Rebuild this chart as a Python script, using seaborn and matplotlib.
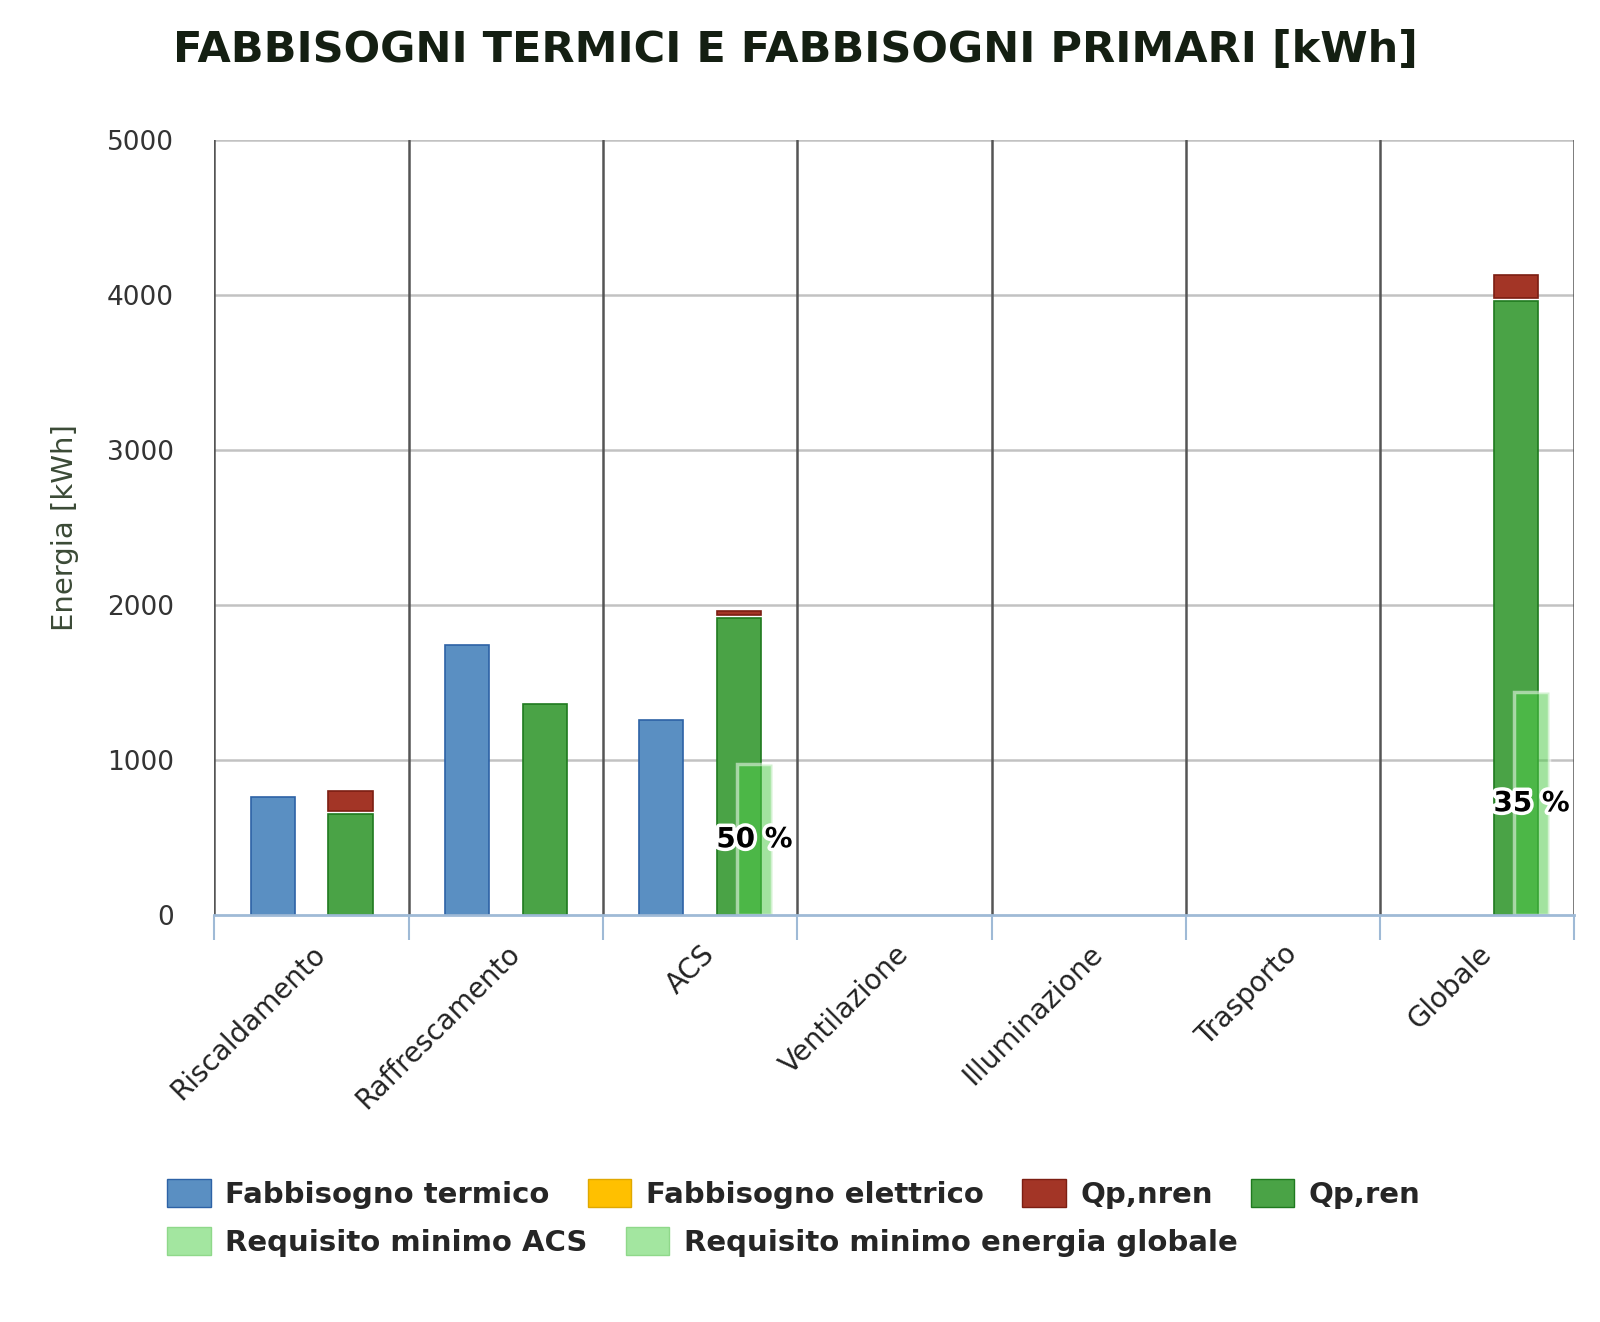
"""Fabbisogni termici e fabbisogni primari: grouped bar chart with seaborn"""

from matplotlib import pyplot as plt
from matplotlib import patheffects as pe
from matplotlib.patches import Patch
import seaborn as sns
import pandas as pd
import numpy as np

categorie = ['Riscaldamento', 'Raffrescamento', 'ACS', 'Ventilazione',
             'Illuminazione', 'Trasporto', 'Globale']
fabb_termico = [760, 1740, 1260, np.nan, np.nan, np.nan, np.nan]
qp_ren = [650, 1360, 1915, np.nan, np.nan, np.nan, 3960]
qp_nren = [130, 0, 30, 0, 0, 0, 150]
req_min = [np.nan, np.nan, 975, np.nan, np.nan, np.nan, 1440]
req_labels = ['', '', '50 %', '', '', '', '35 %']

y_ticks = [0, 1000, 2000, 3000, 4000, 5000]

C_BLUE = '#5a8fc2'
C_YELLOW = '#ffc000'
C_RED = '#a33526'
C_GREEN = '#4aa346'
C_LIGHT = '#4ecb48'
C_LEG_LIGHT = '#a3e6a0'

sns.set_theme(style='white')
plt.rcParams['font.family'] = ['DejaVu Sans']

df = pd.DataFrame({
    'categoria': categorie * 2,
    'valore': fabb_termico + qp_ren,
    'serie': ['Fabbisogno termico'] * 7 + ['Qp,ren'] * 7,
})

fig = plt.figure(figsize=(16, 13.22), dpi=100)
ax = fig.add_axes([0.134, 0.308, 0.850, 0.586])

sns.barplot(data=df, x='categoria', y='valore', hue='serie',
            palette=[C_BLUE, C_GREEN], width=0.8, gap=0.43, saturation=1,
            legend=False, ax=ax, zorder=3)
for patch in ax.patches:
    fc = patch.get_facecolor()
    patch.set_edgecolor('#2d62a6' if fc[2] > 0.6 else '#1f7a1f')
    patch.set_linewidth(1.2)

x = np.arange(len(categorie))
ren_base = np.nan_to_num(np.array(qp_ren, dtype=float))
nren = np.array(qp_nren, dtype=float)
mask = nren > 0
ax.bar(x[mask] + 0.2, nren[mask], bottom=ren_base[mask] + 18, width=0.228,
       color=C_RED, edgecolor='#7c1e12', linewidth=1.2, zorder=3)

req = np.array(req_min, dtype=float)
rmask = ~np.isnan(req)
ax.bar(x[rmask] + 0.28, req[rmask], width=0.18, color=C_LIGHT, alpha=0.52,
       edgecolor='white', linewidth=2.5, zorder=4)
for i in x[rmask]:
    ax.text(i + 0.28, req[i] * 0.5, req_labels[i], ha='center', va='center',
            fontsize=20, fontweight='bold', color='black', zorder=6,
            path_effects=[pe.withStroke(linewidth=5, foreground='white')])

ax.set_xlim(-0.5, len(categorie) - 0.5)
ax.set_ylim(0, 5000)
ax.set_yticks(y_ticks)
ax.set_yticklabels([str(v) for v in y_ticks], fontsize=19, color='#333333')
ax.tick_params(axis='y', length=0, pad=29)

# vertical separators between categories and horizontal grid
for b in np.arange(-0.5, len(categorie) + 0.5, 1):
    ax.axvline(b, color='#555555', linewidth=1.8, zorder=1)
for v in y_ticks[1:]:
    ax.axhline(v, color='#c2c2c2', linewidth=1.8, zorder=0)

ax.set_xticks(x)
ax.set_xticklabels(categorie, rotation=45, ha='right', rotation_mode='anchor',
                   fontsize=20, color='#222222')
ax.tick_params(axis='x', length=0, pad=18)
ax.set_xticks(np.arange(-0.5, len(categorie) + 0.5, 1), minor=True)
ax.tick_params(axis='x', which='minor', bottom=True, length=18, width=1.5,
               color='#9fbad6', direction='out')

for s in ['top', 'right', 'left']:
    ax.spines[s].set_visible(False)
ax.spines['bottom'].set_color('#9fbad6')
ax.spines['bottom'].set_linewidth(2)
ax.spines['bottom'].set_zorder(5)

ax.set_xlabel('')
ax.set_ylabel('Energia [kWh]', fontsize=21, color='#3b4a36', labelpad=20)

fig.suptitle('FABBISOGNI TERMICI E FABBISOGNI PRIMARI [kWh]', x=0.497,
             y=0.978, fontsize=31, fontweight='bold', color='#141f12')

row1 = [Patch(facecolor=C_BLUE, edgecolor='#2d62a6', label='Fabbisogno termico'),
        Patch(facecolor=C_YELLOW, edgecolor='#e0a800', label='Fabbisogno elettrico'),
        Patch(facecolor=C_RED, edgecolor='#7c1e12', label='Qp,nren'),
        Patch(facecolor=C_GREEN, edgecolor='#1f7a1f', label='Qp,ren')]
row2 = [Patch(facecolor=C_LEG_LIGHT, edgecolor='#8fd88a', label='Requisito minimo ACS'),
        Patch(facecolor=C_LEG_LIGHT, edgecolor='#8fd88a',
              label='Requisito minimo energia globale')]
leg_kw = dict(frameon=False, handlelength=1.5, handleheight=1.1,
              handletextpad=0.5, columnspacing=1.3, loc='upper left',
              prop={'weight': 'bold', 'size': 21})
fig.legend(handles=row1, ncol=4, bbox_to_anchor=(0.088, 0.128), **leg_kw)
fig.legend(handles=row2, ncol=2, bbox_to_anchor=(0.088, 0.092), **leg_kw)

fig.savefig('out.png', dpi=100)
